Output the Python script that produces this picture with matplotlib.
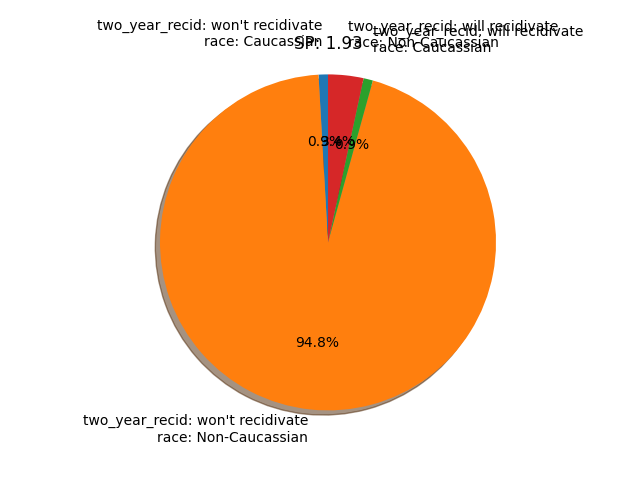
import matplotlib
matplotlib.use("Agg")
import matplotlib.pyplot as plt

labels = [
    "two_year_recid: won't recidivate\nrace: Caucassian",
    "two_year_recid: won't recidivate\nrace: Non-Caucassian",
    "two_year_recid: will recidivate\nrace: Caucassian",
    "two_year_recid: will recidivate\nrace: Non-Caucassian",
]
sizes = [0.9, 94.8, 0.9, 3.4]

fig, ax = plt.subplots(figsize=(6.4, 4.8), dpi=100)
wedges, texts, autotexts = ax.pie(sizes, labels=labels, autopct='%1.1f%%',
                                  shadow=True, startangle=90, labeldistance=1.12)
# upper labels sit a bit higher in the reference
for t in texts:
    x, y = t.get_position()
    if y > 0:
        t.set_position((x, y + 0.12))
ax.axis('equal')
ax.set_title('SP: 1.93')
plt.savefig('out.png')
